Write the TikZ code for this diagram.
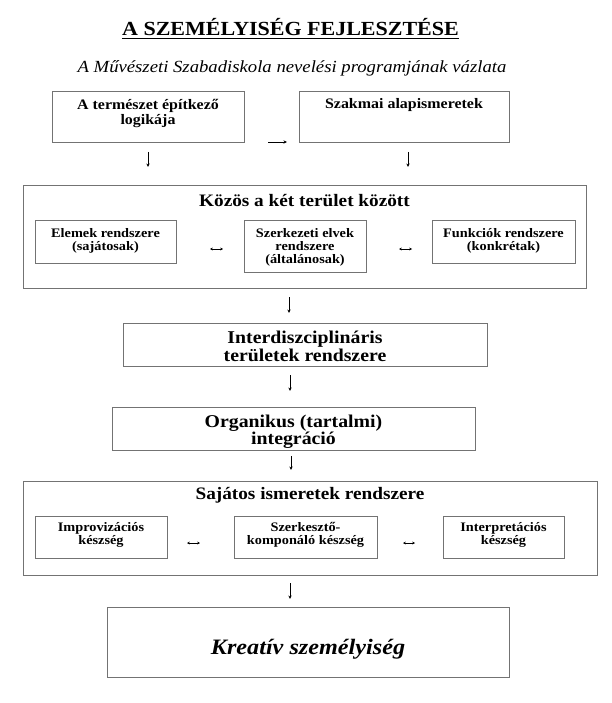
\documentclass[tikz,border=0pt]{standalone}
\usepackage{fontspec}
\setmainfont[FakeStretch=1.1]{Liberation Serif}
\usetikzlibrary{arrows.meta}
\definecolor{framegray}{gray}{0.45}
\newcommand{\fsz}[2]{\fontsize{#1}{#2}\selectfont}
\tikzset{
  frame/.style={draw=framegray, line width=0.9pt, inner sep=0pt},
  toptext/.style={anchor=north, yshift=-#1, align=center, inner sep=0pt},
  glyph/.style={line width=0.7pt, -{Stealth[length=3.5pt,width=3.2pt]}},
  glyphboth/.style={line width=0.6pt, {Stealth[length=2.8pt,width=2.8pt]}-{Stealth[length=2.8pt,width=2.8pt]}},
}
\begin{document}
\begin{tikzpicture}[x=1pt,y=1pt]
\useasboundingbox (0,0) rectangle (612,-703);
% title
\node[anchor=base, inner sep=0pt, font=\bfseries\fsz{20}{24}] (title) at (290.5,-35.6) {A SZEMÉLYISÉG FEJLESZTÉSE};
\draw[line width=1.4pt] ([yshift=-2.8pt]title.base west) -- ([yshift=-2.8pt]title.base east);
\node[anchor=base, inner sep=0pt, font=\itshape\fsz{17}{20}] (subtitle) at (292,-73) {A Művészeti Szabadiskola nevelési programjának vázlata};
% two sources
\node[frame, minimum width=192, minimum height=51,
  label={[toptext=9pt, font=\bfseries\fsz{14.5}{14.5}]north:{A természet építkező\\logikája}}] (logic) at (148,-116.5) {};
\node[frame, minimum width=210, minimum height=51,
  label={[toptext=8pt, font=\bfseries\fsz{14.5}{14.5}]north:{Szakmai alapismeretek}}] (basics) at (404,-116.5) {};
\coordinate (r1) at (268,-142);
\coordinate (r2) at (287,-142);
\draw[glyph] (r1) -- (r2);
\coordinate (d1a) at (148,-152);
\coordinate (d1b) at (148,-167);
\coordinate (d2a) at (408,-152);
\coordinate (d2b) at (408,-167);
\draw[glyph] (d1a) -- (d1b);
\draw[glyph] (d2a) -- (d2b);
% common part
\node[frame, minimum width=563, minimum height=103,
  label={[toptext=10pt, font=\bfseries\fsz{17.5}{20}]north:{Közös a két terület között}}] (common) at (304.5,-236.5) {};
\node[frame, fill=white, minimum width=141, minimum height=43,
  label={[toptext=9pt, font=\bfseries\fsz{13}{12.8}]north:{Elemek rendszere\\(sajátosak)}}] (elements) at (105.5,-241.5) {};
\node[frame, fill=white, minimum width=122, minimum height=52,
  label={[toptext=9pt, font=\bfseries\fsz{13}{12.8}]north:{Szerkezeti elvek\\rendszere\\(általánosak)}}] (principles) at (305,-246) {};
\node[frame, fill=white, minimum width=143, minimum height=43,
  label={[toptext=9pt, font=\bfseries\fsz{13}{12.8}]north:{Funkciók rendszere\\(konkrétak)}}] (functions) at (503.5,-241.5) {};
\coordinate (h1a) at (210,-249);
\coordinate (h1b) at (223,-249);
\coordinate (h2a) at (399,-249);
\coordinate (h2b) at (412,-249);
\draw[glyphboth] (h1a) -- (h1b);
\draw[glyphboth] (h2a) -- (h2b);
\coordinate (d3a) at (289,-297);
\coordinate (d3b) at (289,-313);
\draw[glyph] (d3a) -- (d3b);
% middle chain
\node[frame, minimum width=364, minimum height=43,
  label={[toptext=8pt, font=\bfseries\fsz{18}{18.5}]north:{Interdiszciplináris\\területek rendszere}}] (interdisc) at (305,-344.5) {};
\coordinate (d4a) at (290,-375);
\coordinate (d4b) at (290,-391);
\draw[glyph] (d4a) -- (d4b);
\node[frame, minimum width=363, minimum height=43,
  label={[toptext=8pt, font=\bfseries\fsz{18}{17.5}]north:{Organikus (tartalmi)\\integráció}}] (organic) at (293.5,-428.5) {};
\coordinate (d5a) at (291,-456);
\coordinate (d5b) at (291,-470);
\draw[glyph] (d5a) -- (d5b);
% specific knowledge
\node[frame, minimum width=574, minimum height=94,
  label={[toptext=7pt, font=\bfseries\fsz{17.5}{20}]north:{Sajátos ismeretek rendszere}}] (specific) at (310,-528) {};
\node[frame, fill=white, minimum width=132, minimum height=42,
  label={[toptext=7pt, font=\bfseries\fsz{13}{13}]north:{Improvizációs\\készség}}] (improv) at (101,-537) {};
\node[frame, fill=white, minimum width=143, minimum height=42,
  label={[toptext=7pt, font=\bfseries\fsz{13}{13}]north:{Szerkesztő-\\komponáló készség}}] (composing) at (305.5,-537) {};
\node[frame, fill=white, minimum width=121, minimum height=42,
  label={[toptext=7pt, font=\bfseries\fsz{13}{13}]north:{Interpretációs\\készség}}] (interpret) at (503.5,-537) {};
\coordinate (h3a) at (187,-543);
\coordinate (h3b) at (200,-543);
\coordinate (h4a) at (403,-543);
\coordinate (h4b) at (415,-543);
\draw[glyphboth] (h3a) -- (h3b);
\draw[glyphboth] (h4a) -- (h4b);
\coordinate (d6a) at (290,-583);
\coordinate (d6b) at (290,-599);
\draw[glyph] (d6a) -- (d6b);
% result
\node[frame, minimum width=402, minimum height=70,
  label={[toptext=32pt, font=\bfseries\itshape\fsz{22}{24}]north:{Kreatív személyiség}}] (creative) at (308,-642) {};
\end{tikzpicture}
\end{document}
